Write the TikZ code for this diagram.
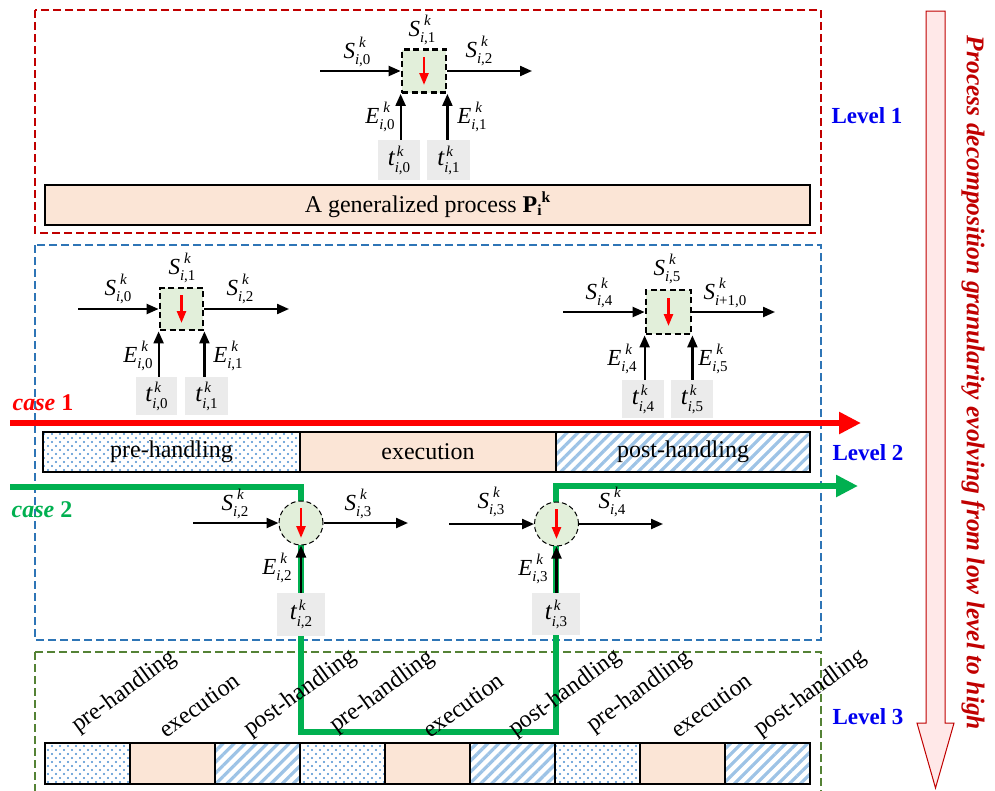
\documentclass[tikz,border=0pt]{standalone}
\usepackage{fontspec}
\setmainfont{Liberation Serif}
\usetikzlibrary{arrows.meta,patterns.meta}
\definecolor{lvone}{HTML}{C00000}
\definecolor{lvtwo}{HTML}{2E75B6}
\definecolor{lvthree}{HTML}{548235}
\definecolor{boxgreen}{HTML}{E2EFDA}
\definecolor{peach}{HTML}{FBE5D6}
\definecolor{tgray}{HTML}{EBEBEB}
\definecolor{dotblue}{HTML}{4A8ED0}
\definecolor{stripeblue}{HTML}{9DC3E6}
\definecolor{casetwo}{HTML}{00B050}
\definecolor{arrowpink}{HTML}{FFE8E8}
\definecolor{lvlblue}{HTML}{0000F0}
\newcommand\subsz{\fontsize{15}{15}\selectfont}
% letter with superscript k and subscript i,#2
\newcommand\sv[2]{{\itshape #1}\rlap{\kern4pt\raisebox{11pt}{\subsz\itshape k}}\raisebox{-6.5pt}{\subsz{\itshape i},#2}}
\newcommand\svp[2]{{\itshape #1}\rlap{\kern4pt\raisebox{11pt}{\subsz\itshape k}}\raisebox{-6.5pt}{\subsz{\itshape i}+1,#2}}
\newcommand\tv[1]{{\fontsize{25}{28}\selectfont\itshape t}\rlap{\kern2pt\raisebox{9pt}{\subsz\itshape k}}\raisebox{-7pt}{\subsz{\itshape i},#1}}
\tikzset{
  lvbox/.style={line width=1.2pt, dash pattern=on 8pt off 4pt},
  sqnode/.style={draw, line width=2.8pt, dash pattern=on 6pt off 3.5pt, fill=boxgreen, minimum width=44pt, minimum height=43pt, inner sep=0pt},
  circnode/.style={circle, draw, line width=1pt, dash pattern=on 5pt off 3pt, fill=boxgreen, minimum size=44pt, inner sep=0pt},
  tbox/.style={fill=tgray, inner sep=0pt, font=\fontsize{23}{27}\selectfont},
  flow/.style={line width=2.2pt, -{Triangle[length=12pt,width=10pt]}},
  redarr/.style={red, line width=2.5pt, -{Triangle[length=12pt,width=9pt]}},
  lbl/.style={inner sep=0pt, font=\fontsize{23}{27}\selectfont},
  bartext/.style={font=\fontsize{24}{28}\selectfont},
  seg/.style={draw, line width=1.2pt, inner sep=0pt},
  dotsA/.style={pattern={Dots[distance=8pt,radius=1.2pt]}, pattern color=dotblue},
  dotsB/.style={pattern={Dots[distance=8pt,radius=1.2pt,xshift=4pt,yshift=4pt]}, pattern color=dotblue},
  stripes/.style={pattern={Lines[angle=45,distance=7.8pt,line width=3.2pt]}, pattern color=stripeblue},
  rotlbl/.style={font=\fontsize{24}{28}\selectfont, rotate=36, anchor=base west, inner sep=0pt},
  levellbl/.style={font=\fontsize{23}{27}\selectfont\bfseries, text=lvlblue, inner sep=0pt},
  thick line/.style={line width=6.5pt},
}
\begin{document}
\begin{tikzpicture}[x=1pt,y=-1pt]
\useasboundingbox (0,0) rectangle (995,790);
\fill[white] (0,0) rectangle (995,790);

% level boxes
\draw[lvbox, lvone] (35,10) rectangle (821,233);
\draw[lvbox, lvtwo] (35,245) rectangle (821,640);
\draw[lvbox, lvthree] (35,652) rectangle (821,800);

% ---------------- Level 1 ----------------
\node[seg, fill=peach, minimum width=765pt, minimum height=40pt, font=\fontsize{24}{28}\selectfont] (gp) at (427.5,205)
  {A generalized process \textbf{P}\raisebox{-3pt}{\fontsize{15.5}{15.5}\selectfont\bfseries i}\raisebox{10pt}{\fontsize{15.5}{15.5}\selectfont\bfseries k}};
\node[sqnode] (b1) at (424,71) {};
\draw[redarr] ([yshift=14pt]b1.center) -- ([yshift=-14pt]b1.center);
\coordinate (b1in) at (320,71);
\coordinate (b1out) at (532,71);
\draw[flow] (b1in) -- (b1.west);
\draw[flow] (b1.east) -- (b1out);
\node[tbox, minimum width=42pt, minimum height=40pt] (t10) at (399,160) {\tv{0}};
\node[tbox, minimum width=43pt, minimum height=40pt] (t11) at (448.5,160) {\tv{1}};
\draw[flow] (b1.south west |- t10.north) -- (b1.south west);
\draw[flow] (b1.south east |- t11.north) -- (b1.south east);
\node[lbl] (l1s0) at (357,52) {\sv{S}{0}};
\node[lbl] (l1s1) at (422,30) {\sv{S}{1}};
\node[lbl] (l1s2) at (479,51) {\sv{S}{2}};
\node[lbl] (l1e0) at (380,117) {\sv{E}{0}};
\node[lbl] (l1e1) at (472,117) {\sv{E}{1}};
\node[levellbl] (lev1) at (867,116) {Level 1};

% ---------------- Level 2 ----------------
% left group
\node[sqnode, minimum width=43pt, minimum height=42pt] (b2) at (181.5,309) {};
\draw[redarr] ([yshift=14pt]b2.center) -- ([yshift=-14pt]b2.center);
\coordinate (b2in) at (78,309);
\coordinate (b2out) at (289,309);
\draw[flow] (b2in) -- (b2.west);
\draw[flow] (b2.east) -- (b2out);
\node[tbox, minimum width=41pt, minimum height=38pt] (t20) at (156.5,396) {\tv{0}};
\node[tbox, minimum width=43pt, minimum height=38pt] (t21) at (206.5,396) {\tv{1}};
\draw[flow] (b2.south west |- t20.north) -- (b2.south west);
\draw[flow] (b2.south east |- t21.north) -- (b2.south east);
\node[lbl] (l2s0) at (118,289) {\sv{S}{0}};
\node[lbl] (l2s1) at (182,268) {\sv{S}{1}};
\node[lbl] (l2s2) at (240,289) {\sv{S}{2}};
\node[lbl] (l2e0) at (138,356) {\sv{E}{0}};
\node[lbl] (l2e1) at (228,356) {\sv{E}{1}};
% right group
\node[sqnode, minimum width=45pt, minimum height=44pt] (b3) at (668.5,312) {};
\draw[redarr] ([yshift=14pt]b3.center) -- ([yshift=-14pt]b3.center);
\coordinate (b3in) at (563,312);
\coordinate (b3out) at (775,312);
\draw[flow] (b3in) -- (b3.west);
\draw[flow] (b3.east) -- (b3out);
\node[tbox, minimum width=42pt, minimum height=38pt] (t24) at (643,399) {\tv{4}};
\node[tbox, minimum width=42pt, minimum height=38pt] (t25) at (692,399) {\tv{5}};
\draw[flow] (b3.south west |- t24.north) -- (b3.south west);
\draw[flow] (b3.south east |- t25.north) -- (b3.south east);
\node[lbl] (l2s4) at (599,293) {\sv{S}{4}};
\node[lbl] (l2s5) at (667,269) {\sv{S}{5}};
\node[lbl] (l2s10) at (725,293) {\svp{S}{0}};
\node[lbl] (l2e4) at (622,359) {\sv{E}{4}};
\node[lbl] (l2e5) at (713,359) {\sv{E}{5}};

% level 2 bar
\path[dotsA] (43,432) rectangle (300,472);
\path[dotsB] (43,432) rectangle (300,472);
\path[stripes] (556,432) rectangle (810,472);
\node[seg, bartext, minimum width=257pt, minimum height=40pt] (pre2) at (171.5,452) {pre-handling};
\node[seg, bartext, fill=peach, minimum width=256pt, minimum height=40pt] (exe2) at (428,452) {execution};
\node[seg, bartext, minimum width=254pt, minimum height=40pt] (post2) at (683,452) {post-handling};
\node[levellbl] (lev2) at (868,453) {Level 2};

% case 1
\coordinate (c1s) at (10,423);
\coordinate (c1e) at (861,423);
\draw[red, thick line, -{Triangle[length=22pt,width=21pt]}] (c1s) -- (c1e);
\node[font=\fontsize{24}{28}\selectfont\bfseries, text=red, inner sep=0pt] (case1) at (43,403) {\textit{case} 1};

% case 2 path
\coordinate (g0) at (10,487);
\coordinate (g1) at (301,487);
\coordinate (g2) at (301,732);
\coordinate (g3) at (556,732);
\coordinate (g4) at (556,486);
\coordinate (g5) at (858,486);
\draw[casetwo, thick line, line join=miter, -{Triangle[length=22pt,width=21pt]}] (g0) -- (g1) -- (g2) -- (g3) -- (g4) -- (g5);
\node[font=\fontsize{24}{28}\selectfont\bfseries, text=casetwo, inner sep=0pt] (case2) at (42,510) {\textit{case} 2};

% case 2 nodes
\node[tbox, minimum width=48pt, minimum height=43pt] (t22) at (301,614.5) {\tv{2}};
\node[tbox, minimum width=48pt, minimum height=42pt] (t23) at (556,614) {\tv{3}};
\node[circnode] (c2a) at (301,523) {};
\node[circnode] (c2b) at (556.5,524) {};
\draw[redarr] ([yshift=15pt]c2a.center) -- ([yshift=-15pt]c2a.center);
\draw[redarr] ([yshift=15pt]c2b.center) -- ([yshift=-15pt]c2b.center);
\coordinate (c2ain) at (193,523);
\coordinate (c2aout) at (408,523);
\coordinate (c2bin) at (449,524);
\coordinate (c2bout) at (663,524);
\draw[flow] (c2ain) -- (c2a.west);
\draw[flow] (c2a.east) -- (c2aout);
\draw[flow] (c2bin) -- (c2b.west);
\draw[flow] (c2b.east) -- (c2bout);
\draw[flow] (t22.north) -- (c2a.south);
\draw[flow] (c2b.south |- t23.north) -- (c2b.south);
\node[lbl] (l3s2) at (235,504) {\sv{S}{2}};
\node[lbl] (l3s3) at (358,504) {\sv{S}{3}};
\node[lbl] (l3e2) at (277,568) {\sv{E}{2}};
\node[lbl] (l4s3) at (491,502) {\sv{S}{3}};
\node[lbl] (l4s4) at (612,502) {\sv{S}{4}};
\node[lbl] (l4e3) at (533,569) {\sv{E}{3}};

% ---------------- Level 3 ----------------
\foreach \x in {45,300,555} {
  \path[dotsA] (\x,743) rectangle ++(85,41);
  \path[dotsB] (\x,743) rectangle ++(85,41);
  \node[seg, minimum width=85pt, minimum height=41pt] (d\x) at (\x+42.5,763.5) {};
}
\foreach \x in {130,385,640} {
  \node[seg, fill=peach, minimum width=85pt, minimum height=41pt] (e\x) at (\x+42.5,763.5) {};
}
\foreach \x in {215,470,725} {
  \path[stripes] (\x,743) rectangle ++(85,41);
  \node[seg, minimum width=85pt, minimum height=41pt] (s\x) at (\x+42.5,763.5) {};
}
\node[rotlbl] (r1) at (78,733) {pre-handling};
\node[rotlbl] (r2) at (166,739) {execution};
\node[rotlbl] (r3) at (250,737) {post-handling};
\node[rotlbl] (r4) at (336,733) {pre-handling};
\node[rotlbl] (r5) at (430,739) {execution};
\node[rotlbl] (r6) at (515,737) {post-handling};
\node[rotlbl] (r7) at (593,733) {pre-handling};
\node[rotlbl] (r8) at (678,739) {execution};
\node[rotlbl] (r9) at (760,737) {post-handling};
\node[levellbl] (lev3) at (868,717) {Level 3};

% ---------------- big arrow ----------------
\draw[lvone, fill=arrowpink, line width=1pt, line join=miter]
  (926,11) -- (945,11) -- (945,723) -- (954,723) -- (935.5,788) -- (917,723) -- (926,723) -- cycle;
\node[font=\fontsize{25.5}{30}\selectfont\bfseries\itshape, text=lvone, rotate=-90, inner sep=0pt] (gran) at (973,383)
  {Process decomposition granularity evolving from low level to high};
\end{tikzpicture}
\end{document}
